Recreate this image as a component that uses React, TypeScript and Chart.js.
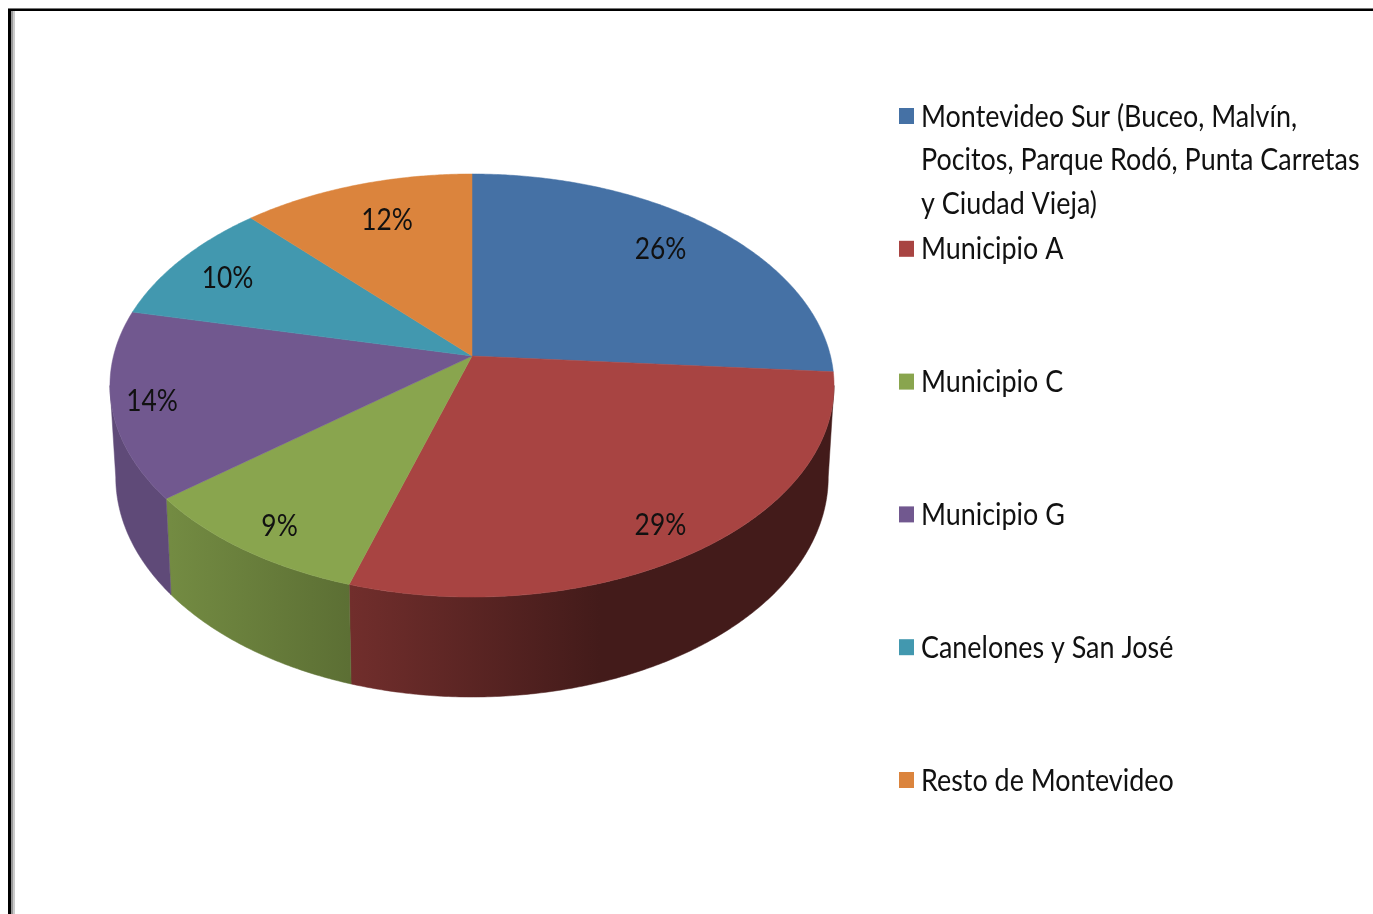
import React, { useEffect, useRef } from "react";
import { Chart, registerables } from "chart.js";

Chart.register(...registerables);

const categories = [
  "Montevideo Sur (Buceo, Malvín, Pocitos, Parque Rodó, Punta Carretas y Ciudad Vieja)",
  "Municipio A",
  "Municipio C",
  "Municipio G",
  "Canelones y San José",
  "Resto de Montevideo",
];
const shares = [26.2, 28.6, 9.4, 14.3, 9.6, 11.9];
const sliceColors = ["#4571A5", "#A84442", "#89A54E", "#71588F", "#4298AF", "#DB843D"];

// Tilted-disc projection of the library's arc angles onto the page
const CX = 472, CY = 356, RX = 358.5, RY = 207.4, K = 0.1395;
const project = (theta: number, r = 1) => {
  const u = Math.sin(theta) * r, v = Math.cos(theta) * r;
  const w = 1 + K * v;
  return { x: CX + (RX * u) / w, y: CY - (RY * v) / w };
};
const lower = (p: { x: number; y: number }) => ({
  x: CX + (p.x - CX) * 0.984,
  y: 697 + (p.y - 597) * 1.04,
});
const shadeStops: [number, number][] = [[110, 0.84], [170, 0.84], [350, 0.67], [600, 0.4], [834, 0.4]];
const labelNudge = [[16, -14], [35, 38], [-39, 39], [-70, 11], [-37, -9], [-1, -12]];

const shade = (hex: string, f: number) => {
  const n = parseInt(hex.slice(1), 16);
  const c = (s: number) => Math.round(((n >> s) & 255) * f);
  return `rgb(${c(16)},${c(8)},${c(0)})`;
};

const FONT = "Lato, 'Liberation Sans', sans-serif";
const LEGEND_SX = 0.868;
const LABEL_SX = 0.85;
const FONT_PX = 31;

function stretched(ctx: CanvasRenderingContext2D, s: string, x: number, y: number, sx: number, align: CanvasTextAlign) {
  ctx.save();
  ctx.translate(x, y);
  ctx.scale(sx, 1);
  ctx.font = `${FONT_PX}px ${FONT}`;
  ctx.textAlign = align;
  ctx.textBaseline = "middle";
  ctx.fillStyle = "#111";
  ctx.fillText(s, 0, 0);
  ctx.restore();
}

const pie3d = {
  id: "pie3d",
  beforeDraw(chart: any) {
    const ctx = chart.ctx as CanvasRenderingContext2D;
    ctx.save();
    ctx.fillStyle = "#fff";
    ctx.fillRect(0, 0, chart.width, chart.height);
    ctx.fillStyle = "#777"; ctx.fillRect(8, 8, 1365, 1);
    ctx.fillStyle = "#000"; ctx.fillRect(8, 9, 1365, 2);
    ctx.fillStyle = "#000"; ctx.fillRect(8, 9, 3, 905);
    ctx.fillStyle = "#999"; ctx.fillRect(11, 11, 2, 903);
    ctx.fillStyle = "#ccc"; ctx.fillRect(13, 11, 2, 903);
    ctx.restore();
  },
  beforeDatasetDraw(chart: any) {
    const ctx = chart.ctx as CanvasRenderingContext2D;
    const arcs = chart.getDatasetMeta(0).data;
    const colors = chart.data.datasets[0].backgroundColor as string[];
    const range = (a: any) => [a.startAngle + Math.PI / 2, a.endAngle + Math.PI / 2];
    const STEP = Math.PI / 360;

    // walls: only the part of the rim between the two horizontal extremes of the disc
    const lo = Math.acos(-K), hi = 2 * Math.PI - lo;
    arcs.forEach((a: any, i: number) => {
      const [s0, e0] = range(a);
      const s = Math.max(s0, lo), e = Math.min(e0, hi);
      if (e <= s) return;
      const g = ctx.createLinearGradient(110, 0, 834, 0);
      shadeStops.forEach(([x, f]) => g.addColorStop((x - 110) / 724, shade(colors[i], f)));
      ctx.beginPath();
      for (let t = s; t < e; t += STEP) { const p = project(t); ctx.lineTo(p.x, p.y); }
      const pe = project(e); ctx.lineTo(pe.x, pe.y);
      const be = lower(pe); ctx.lineTo(be.x, be.y);
      for (let t = e; t > s; t -= STEP) { const p = lower(project(t)); ctx.lineTo(p.x, p.y); }
      const bs = lower(project(s)); ctx.lineTo(bs.x, bs.y);
      ctx.closePath();
      ctx.fillStyle = g;
      ctx.strokeStyle = g;
      ctx.lineWidth = 0.5;
      ctx.fill();
      ctx.stroke();
    });

    // top face
    arcs.forEach((a: any, i: number) => {
      const [s, e] = range(a);
      ctx.beginPath();
      ctx.moveTo(CX, CY);
      for (let t = s; t < e; t += STEP) { const p = project(t); ctx.lineTo(p.x, p.y); }
      const pe = project(e); ctx.lineTo(pe.x, pe.y);
      ctx.closePath();
      ctx.fillStyle = colors[i];
      ctx.strokeStyle = colors[i];
      ctx.lineWidth = 0.5;
      ctx.fill();
      ctx.stroke();
    });

    // value labels
    ctx.save();
    ctx.filter = "blur(0.5px)";
    arcs.forEach((a: any, i: number) => {
      const [s, e] = range(a);
      const p = project((s + e) / 2, 0.7);
      stretched(ctx, `${Math.round(chart.data.datasets[0].data[i])}%`, p.x + labelNudge[i][0], p.y + labelNudge[i][1], LABEL_SX, "center");
    });

    // legend
    chart.data.labels.forEach((label: string, i: number) => {
      const y0 = 116 + 132.8 * i;
      ctx.fillStyle = colors[i];
      ctx.fillRect(899, y0 - 8, 15, 16);
      ctx.font = `${FONT_PX}px ${FONT}`;
      const lines: string[] = [];
      let cur = "";
      label.split(" ").forEach((w) => {
        const t = cur ? cur + " " + w : w;
        if (ctx.measureText(t).width * LEGEND_SX > 448 && cur) { lines.push(cur); cur = w; } else cur = t;
      });
      lines.push(cur);
      lines.forEach((l, j) => stretched(ctx, l, 921, y0 + 0.5 + j * 43.5, LEGEND_SX, "left"));
    });
    ctx.restore();
    return false;
  },
};

export default function App() {
  const ref = useRef<HTMLCanvasElement>(null);
  useEffect(() => {
    const chart = new Chart(ref.current!, {
      type: "pie",
      data: {
        labels: categories,
        datasets: [{ data: shares, backgroundColor: sliceColors }],
      },
      options: {
        animation: false,
        responsive: false,
        plugins: { legend: { display: false }, tooltip: { enabled: false } },
      },
      plugins: [pie3d],
    } as any);
    return () => chart.destroy();
  }, []);
  return (
    <canvas
      ref={ref}
      width={1373}
      height={914}
      style={{ position: "fixed", left: 0, top: 0, width: 1373, height: 914, display: "block" }}
    />
  );
}
